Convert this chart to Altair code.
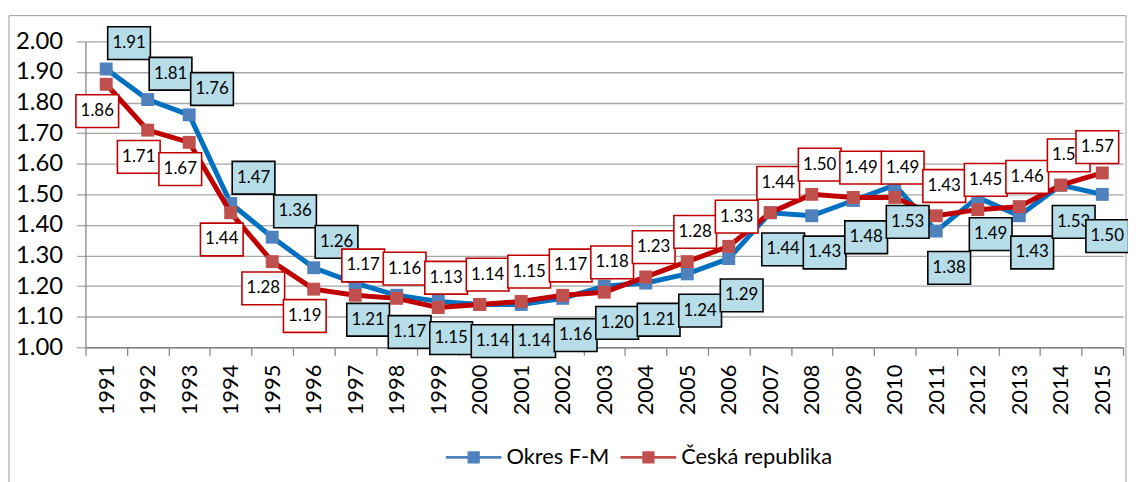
import altair as alt
import pandas as pd

years = list(range(1991, 2016))
okres_fm = [1.91, 1.81, 1.76, 1.47, 1.36, 1.26, 1.21, 1.17, 1.15, 1.14, 1.14, 1.16, 1.20,
            1.21, 1.24, 1.29, 1.44, 1.43, 1.48, 1.53, 1.38, 1.49, 1.43, 1.53, 1.50]
ceska_republika = [1.86, 1.71, 1.67, 1.44, 1.28, 1.19, 1.17, 1.16, 1.13, 1.14, 1.15, 1.17, 1.18,
                   1.23, 1.28, 1.33, 1.44, 1.50, 1.49, 1.49, 1.43, 1.45, 1.46, 1.53, 1.57]
series_names = ["Okres F-M", "Česká republika"]
y_ticks = [1.00, 1.10, 1.20, 1.30, 1.40, 1.50, 1.60, 1.70, 1.80, 1.90, 2.00]

rows = []
for name, vals in zip(series_names, [okres_fm, ceska_republika]):
    for yr, v in zip(years, vals):
        rows.append({"year": yr, "series": name, "value": v})
df = pd.DataFrame(rows)

FONT = "Lato"
line_colors = {"Okres F-M": "#0070C0", "Česká republika": "#C00000"}
marker_colors = ["#4F81BD", "#C0504D"]
box_fill = {"Okres F-M": "#B7DDE8", "Česká republika": "#FFFFFF"}
box_stroke = {"Okres F-M": "#000000", "Česká republika": "#C00000"}
# label placement (dx, dy): years up to 1996, middle years, and the last year at the right edge
label_offsets = {
    "Okres F-M": {"early": (23, -26), "late": (13, 37), "edge": (5, 42)},
    "Česká republika": {"early": (-9, 27), "late": (8, -30), "edge": (-5, -26)},
}
phase_filters = [
    ("early", "datum.year <= 1996"),
    ("late", "datum.year > 1996 && datum.year < 2015"),
    ("edge", "datum.year >= 2015"),
]

x_enc = alt.X(
    "year:O",
    title=None,
    scale=alt.Scale(type="band", paddingInner=0, paddingOuter=0),
    axis=alt.Axis(
        labelAngle=-90, labelFont=FONT, labelFontSize=22, labelColor="black",
        labelPadding=9, tickBand="extent", tickSize=8, tickColor="#868686",
        tickWidth=1.3, domainColor="#868686", domainWidth=1.3, grid=False,
        labelAlign="right", labelBaseline="middle",
    ),
)
y_enc = alt.Y(
    "value:Q",
    title=None,
    scale=alt.Scale(domain=[1, 2], nice=False, zero=False),
    axis=alt.Axis(
        values=y_ticks, format=".2f", labelFont=FONT, labelFontSize=24,
        labelColor="black", labelPadding=14, tickSize=9, tickColor="#A6A6A6",
        tickWidth=1.3, domainColor="#868686", domainWidth=1.3, grid=True,
        gridColor="#A6A6A6", gridWidth=1.3,
    ),
)

legend_path = ("M-1,-0.05L1,-0.05L1,0.05L-1,0.05Z "
               "M-0.22,-0.22L0.22,-0.22L0.22,0.22L-0.22,0.22Z")
box_path = "M-1,-0.767L1,-0.767L1,0.767L-1,0.767Z"

fill_enc = alt.Fill(
    "series:N",
    scale=alt.Scale(domain=series_names, range=marker_colors),
    legend=alt.Legend(
        title=None, orient="none", legendX=363, legendY=391, direction="horizontal",
        symbolType=legend_path, symbolSize=3136, symbolStrokeWidth=0, symbolOpacity=1,
        labelFont=FONT, labelFontSize=22, labelColor="black", columnPadding=11,
        labelOffset=5,
    ),
)

base = alt.Chart(df)
layers = []

frame = alt.Chart(pd.DataFrame({"a": [0]})).mark_rect(
    filled=False, stroke="#9A9A9A", strokeWidth=1
).encode(x=alt.value(-77), x2=alt.value(1048), y=alt.value(-26), y2=alt.value(460))
layers.append(frame)

for name in series_names:
    sub = base.transform_filter(alt.datum.series == name)
    layers.append(sub.mark_line(strokeWidth=5, color=line_colors[name]).encode(x=x_enc, y=y_enc))
    layers.append(sub.mark_point(shape="square", filled=True, size=169, opacity=1).encode(
        x=x_enc, y=y_enc, fill=fill_enc))

for name in series_names:
    for phase, cond in phase_filters:
        dx, dy = label_offsets[name][phase]
        sub = base.transform_filter(alt.datum.series == name).transform_filter(cond)
        layers.append(sub.mark_point(
            shape=box_path, size=1849, filled=True, fill=box_fill[name],
            stroke=box_stroke[name], strokeWidth=1.6, opacity=1,
            xOffset=dx, yOffset=dy,
        ).encode(x=x_enc, y=y_enc))
        layers.append(sub.mark_text(
            font=FONT, fontSize=17, color="black", dx=dx, dy=dy,
            align="center", baseline="middle",
        ).encode(x=x_enc, y=y_enc, text=alt.Text("value:Q", format=".2f")))

chart = alt.layer(*layers).properties(
    width=1045, height=308,
    autosize=alt.AutoSizeParams(type="none"),
    padding={"left": 78, "top": 32, "right": 5, "bottom": 134},
    background="white",
).configure_view(stroke=None)

chart.save("out.html", embed_options={"renderer": "svg", "actions": False})
